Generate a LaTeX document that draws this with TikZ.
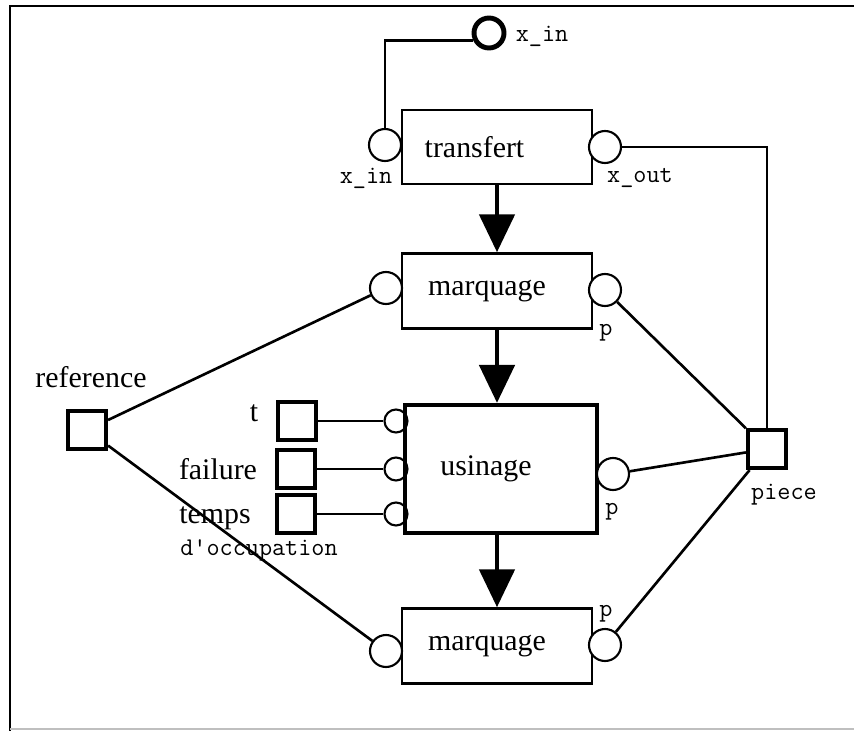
\documentclass[tikz,border=0pt]{standalone}
\usepackage{fontspec}
\setmainfont{Liberation Serif}
\usetikzlibrary{arrows.meta}

\begin{document}
\begin{tikzpicture}[x=0.2mm, y=-0.2mm,
        bloc/.style={rectangle, draw, line width=1.4pt, minimum width=38mm, minimum height=15mm, font=\fontsize{17}{20}\selectfont},
        port/.style={circle, draw, fill=white, line width=1.2pt, minimum size=6.4mm, inner sep=0pt},
        petit/.style={circle, draw, fill=white, line width=1.2pt, minimum size=4.6mm, inner sep=0pt},
        carre/.style={rectangle, draw, line width=2.4pt, minimum size=7.6mm, inner sep=0pt},
        txt/.style={font=\fontsize{17}{20}\selectfont, inner sep=0pt},
        mono/.style={font=\ttfamily\fontsize{14.5}{16}\selectfont, inner sep=0pt},
        wire/.style={line width=1.5pt},
        flow/.style={line width=2.8pt, -{Triangle[width=7mm, length=7.6mm]}}
    ]
        \useasboundingbox (0,0) rectangle (854,731);
        % cadre
        \draw[line width=1.7pt] (854,6) -- (10,6) -- (10,731);
        \draw[gray!50, line width=0.8pt] (10,729) -- (854,729);

        % blocs
        \node[bloc, minimum height=14.8mm] (transfert) at (497,147) {\hspace*{-9mm}transfert};
        \node[bloc] (marq1) at (497,291) {\hspace*{-4mm}marquage};
        \node[petit] (ul1) at (396,421) {};
        \node[petit] (ul2) at (396,469) {};
        \node[petit] (ul3) at (396,514) {};
        \node[bloc, line width=2.4pt, minimum width=38.4mm, minimum height=25.6mm] (usinage) at (501,469) {\hspace*{-6mm}usinage};
        \node[bloc] (marq2) at (497,646) {\hspace*{-4mm}marquage};

        % ports
        \node[port, line width=2.8pt, minimum size=6mm] (xin) at (489,33) {};
        \node[port] (tl) at (385,145) {};
        \node[port] (tr) at (605,147) {};
        \node[port] (ml1) at (386,288) {};
        \node[port] (mr1) at (605,290) {};
        \node[port] (ur) at (613,474) {};
        \node[port] (ml2) at (386,651) {};
        \node[port] (mr2) at (605,645) {};

        % places
        \node[carre] (ref) at (87,430) {};
        \node[carre] (piece) at (767,449) {};
        \node[carre] (tsq) at (297,421) {};
        \node[carre] (fsq) at (296,469) {};
        \node[carre] (osq) at (296,514) {};

        % textes
        \node[mono] (xinl) at (542,36) {x\_in};
        \node[mono] (tll) at (366,178) {x\_in};
        \node[mono] (trl) at (640,178) {x\_out};
        \node[mono] (p1) at (606,333) {p};
        \node[mono] (p2) at (612,512) {p};
        \node[mono] (p3) at (606,614) {p};
        \node[txt] (refl) at (91,377) {reference};
        \node[mono] (piecel) at (784,495) {piece};
        \node[txt] (tl0) at (254,413) {t};
        \node[txt] (fl) at (218,469) {failure};
        \node[txt] (ol) at (215,518) {temps};
        \node[mono] (ol2) at (259,550) {d'occupation};

        % liaisons
        \draw[wire] (xin.205) -| (tl);
        \draw[wire] (tr) -| (piece);
        \draw[wire] (ref) -- (ml1);
        \draw[wire] (ref) -- (ml2);
        \draw[wire] (mr1) -- (piece);
        \draw[wire] (ur) -- (piece);
        \draw[wire] (mr2) -- (piece);
        \draw[wire] (tsq) -- (ul1);
        \draw[wire] (fsq) -- (ul2);
        \draw[wire] (osq) -- (ul3);

        % enchainement
        \draw[flow] (transfert) -- (marq1);
        \draw[flow] (marq1) -- (marq1 |- usinage.north);
        \draw[flow] (usinage.south -| marq2) -- (marq2);
    \end{tikzpicture}
\end{document}
